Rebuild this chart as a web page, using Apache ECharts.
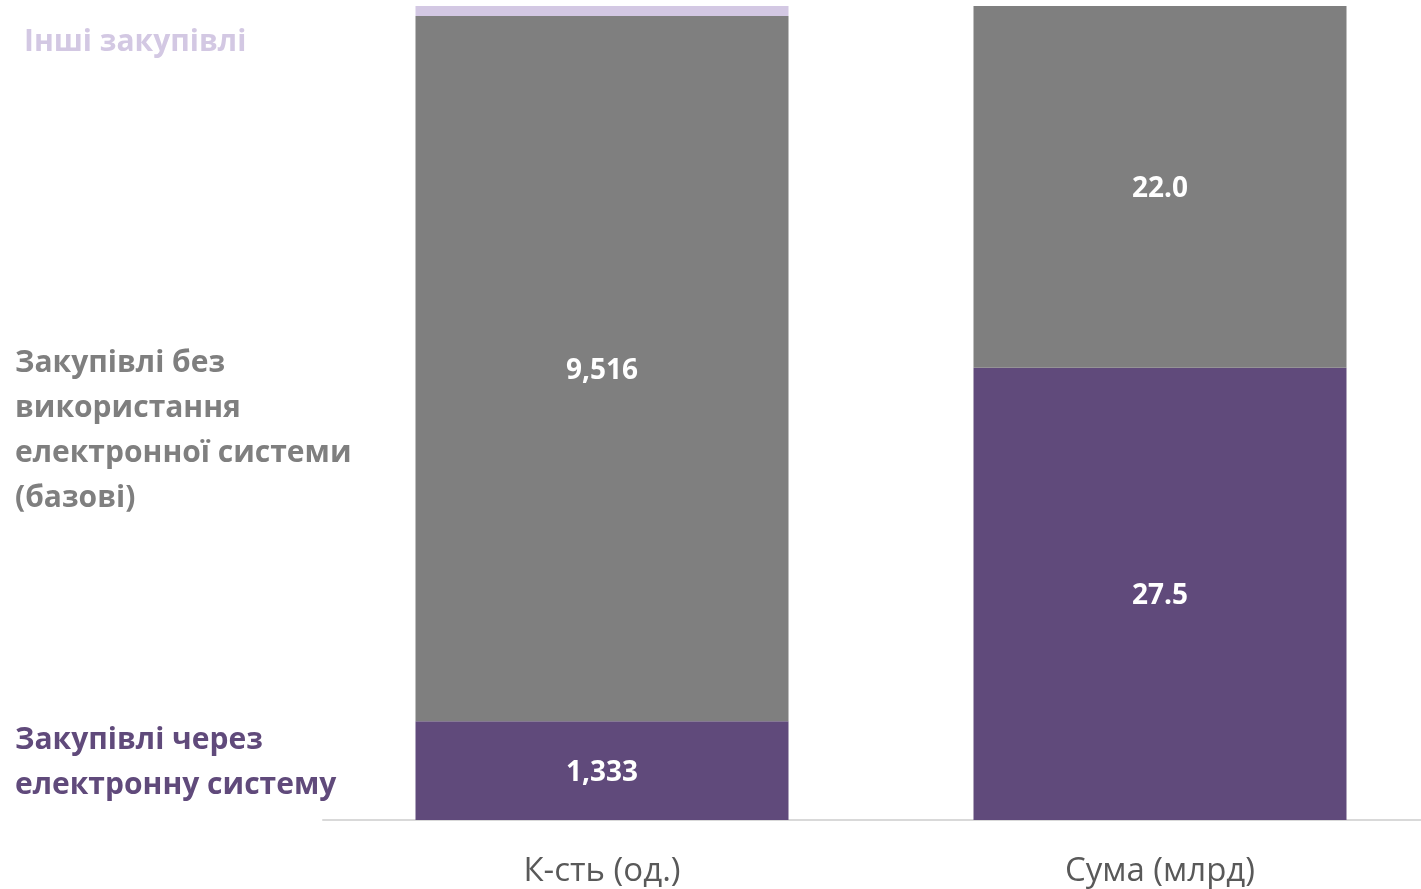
<!DOCTYPE html>
<html>
<head>
<meta charset="utf-8">
<script src="https://cdn.jsdelivr.net/npm/echarts@6/dist/echarts.min.js"></script>
<style>
  html, body { margin: 0; padding: 0; background: #fff; }
  #chart { width: 1421px; height: 889px; }
</style>
</head>
<body>
<div id="chart"></div>
<script>
  // categories and raw values (count, billions)
  const categories = ['К-сть (од.)', 'Сума (млрд)']
  const electronic = [1333, 27.5]
  const basic = [9516, 22.0]
  const other = [135, 0]
  const seriesNames = [
    'Закупівлі через електронну систему',
    'Закупівлі без використання електронної системи (базові)',
    'Інші закупівлі'
  ]

  const FONT = '"Open Sans", "Noto Sans", sans-serif'
  const raw = [electronic, basic, other]
  const totals = categories.map((c, i) => electronic[i] + basic[i] + other[i])
  const share = arr => arr.map((v, i) => v / totals[i] * 100)

  function fmt(v, i) {
    if (i === 0) return v.toLocaleString('en-US')
    return v.toFixed(1)
  }

  const colors = ['#604a7b', '#7f7f7f', '#d3c8e3']

  const chart = echarts.init(document.getElementById('chart'))
  chart.setOption({
    animation: false,
    grid: { left: 323, top: 6, bottom: 69, width: 1116, outerBoundsMode: 'none' },
    xAxis: {
      type: 'category',
      data: categories,
      axisLine: { lineStyle: { color: '#d9d9d9', width: 2 } },
      axisTick: { show: false },
      axisLabel: { color: '#595959', fontSize: 33, fontFamily: FONT, margin: 35 }
    },
    yAxis: {
      type: 'value',
      min: 0,
      max: 100,
      show: false
    },
    series: raw.map((arr, s) => ({
      name: seriesNames[s],
      type: 'bar',
      stack: 'total',
      barWidth: 373,
      itemStyle: { color: colors[s] },
      label: {
        show: s < 2,
        position: 'inside',
        offset: [0, 2],
        color: '#fff',
        fontWeight: 'bold',
        fontSize: 28,
        fontFamily: FONT,
        formatter: p => arr[p.dataIndex] ? fmt(arr[p.dataIndex], p.dataIndex) : ''
      },
      data: share(arr)
    })),
    graphic: [
      {
        type: 'text', left: 24, top: 27,
        style: { text: 'Інші закупівлі', fill: colors[2], font: 'bold 30px ' + FONT }
      },
      {
        type: 'text', left: 15, top: 341,
        style: {
          text: 'Закупівлі без\nвикористання\nелектронної системи\n(базові)',
          fill: colors[1], font: 'bold 30px ' + FONT, lineHeight: 45
        }
      },
      {
        type: 'text', left: 15, top: 718,
        style: {
          text: 'Закупівлі через\nелектронну систему',
          fill: colors[0], font: 'bold 30px ' + FONT, lineHeight: 45
        }
      }
    ]
  })
</script>
</body>
</html>
